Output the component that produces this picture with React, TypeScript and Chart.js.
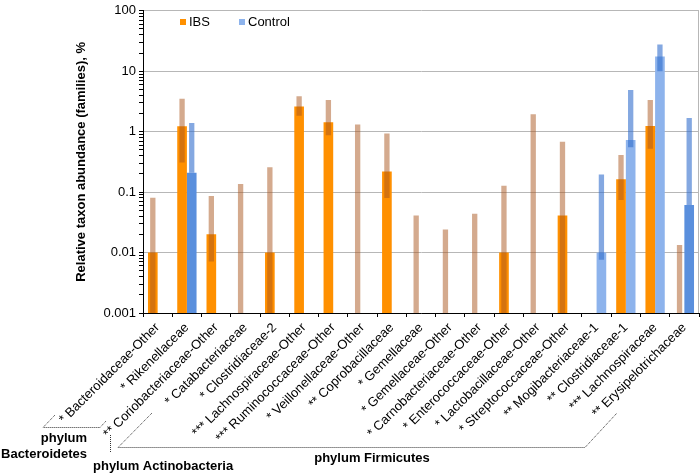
import React, { useEffect, useRef } from 'react';
import { Chart, registerables } from 'chart.js';

Chart.register(...registerables);

// ---------- data ----------
const categories = [
  '* Bacteroidaceae-Other',
  '* Rikenellaceae',
  '** Coriobacteriaceae-Other',
  '* Catabacteriaceae',
  '* Clostridiaceae-2',
  '*** Lachnospiraceae-Other',
  '*** Ruminococcaceae-Other',
  '* Veillonellaceae-Other',
  '** Coprobacillaceae',
  '* Gemellaceae',
  '* Gemellaceae-Other',
  '* Carnobacteriaceae-Other',
  '* Enterococcaceae-Other',
  '* Lactobacillaceae-Other',
  '* Streptococcaceae-Other',
  '** Mogibacteriaceae-1',
  '** Clostridiaceae-1',
  '*** Lachnospiraceae',
  '** Erysipelotrichaceae',
];

// IBS bar values (null = no bar)
const ibsMean = [0.01, 1.23, 0.02, null, 0.01, 2.6, 1.43, null, 0.22, null, null, null, 0.01, null, 0.041, null, 0.163, 1.24, null];
// IBS range bands (low null = down to axis floor)
const ibsLow = [null, 0.31, 0.0071, null, null, 1.83, 0.87, null, 0.08, null, null, null, null, null, null, null, 0.074, 0.52, null];
const ibsHigh = [0.081, 3.5, 0.086, 0.136, 0.257, 3.87, 3.33, 1.32, 0.93, 0.041, 0.024, 0.044, 0.128, 1.95, 0.68, null, 0.41, 3.33, 0.0133];

// Control bar values
const ctrlMean = [null, 0.21, null, null, null, null, null, null, null, null, null, null, null, null, null, 0.01, 0.73, 17.6, 0.061];
const ctrlLow = [null, 0.21, null, null, null, null, null, null, null, null, null, null, null, null, null, 0.0076, 0.55, 10, 0.061];
const ctrlHigh = [null, 1.39, null, null, null, null, null, null, null, null, null, null, null, null, null, 0.195, 4.9, 27.6, 1.68];

const yMin = 0.001;
const yMax = 100;
const yLabelTicks = [0.001, 0.01, 0.1, 1, 10, 100];

const seriesNames = ['IBS', 'Control'];

// ---------- styles ----------
const FONT = '"Liberation Sans", Arial, sans-serif';
const ORANGE = '#FF9000';
const BLUE = '#8DB3EC';
const BLUE_DARK = '#5A8FDD';
const IBS_BAND = 'rgba(170,85,30,0.5)';
const CTRL_BAND = 'rgba(50,110,205,0.6)';
const darkControl = new Set(['* Rikenellaceae', '** Erysipelotrichaceae']);

const isDecade = (v: number) => {
  const l = Math.log10(v);
  return Math.abs(l - Math.round(l)) < 1e-9;
};

const extrasPlugin = {
  id: 'extras',
  afterDraw(chart: any) {
    const ctx = chart.ctx;
    const { chartArea } = chart;
    ctx.save();
    // right border
    ctx.strokeStyle = '#B7B7B7';
    ctx.lineWidth = 1;
    ctx.beginPath();
    ctx.moveTo(chartArea.right - 0.5, chartArea.top);
    ctx.lineTo(chartArea.right - 0.5, chartArea.bottom);
    ctx.stroke();

    // legend
    ctx.font = `13px ${FONT}`;
    ctx.textBaseline = 'middle';
    ctx.textAlign = 'left';
    const legendItems = [
      { name: seriesNames[0], color: ORANGE, x: 180 },
      { name: seriesNames[1], color: BLUE, x: 239 },
    ];
    legendItems.forEach((it) => {
      ctx.fillStyle = it.color;
      ctx.fillRect(it.x, 19, 6, 6);
      ctx.fillStyle = '#000';
      ctx.fillText(it.name, it.x + 9, 22.5);
    });

    // phylum annotations
    ctx.strokeStyle = '#333';
    ctx.lineWidth = 1;
    ctx.setLineDash([1, 1]);
    const line = (pts: number[][]) => {
      ctx.beginPath();
      ctx.moveTo(pts[0][0], pts[0][1]);
      for (let i = 1; i < pts.length; i++) ctx.lineTo(pts[i][0], pts[i][1]);
      ctx.stroke();
    };
    line([[55, 415], [43, 427.5], [100, 427.5], [106, 421]]);
    line([[110.5, 435], [110.5, 452]]);
    line([[152, 413], [118, 447.5], [585, 447.5], [617, 413]]);
    ctx.setLineDash([]);

    ctx.fillStyle = '#000';
    ctx.font = `bold 13px ${FONT}`;
    ctx.textAlign = 'right';
    ctx.fillText('phylum', 87, 438);
    ctx.fillText('Bacteroidetes', 87, 454);
    ctx.textAlign = 'left';
    ctx.fillText('phylum Actinobacteria', 93, 466);
    ctx.textAlign = 'center';
    ctx.fillText('phylum Firmicutes', 372, 458);
    ctx.restore();
  },
};

export default function App() {
  const ref = useRef<HTMLCanvasElement>(null);

  useEffect(() => {
    document.body.style.margin = '0';
    const ibsBand = categories.map((_, i) =>
      ibsHigh[i] == null ? null : [ibsLow[i] ?? yMin, ibsHigh[i]]
    );
    const ctrlBand = categories.map((_, i) =>
      ctrlHigh[i] == null ? null : [ctrlLow[i] ?? yMin, ctrlHigh[i]]
    );
    const chart = new Chart(ref.current as HTMLCanvasElement, {
      type: 'bar',
      data: {
        labels: categories,
        datasets: [
          {
            label: 'IBS range',
            data: ibsBand as any,
            stack: 'ibs',
            backgroundColor: IBS_BAND,
            categoryPercentage: 0.66,
            barPercentage: 0.55,
            order: 1,
          },
          {
            label: 'Control range',
            data: ctrlBand as any,
            stack: 'ctrl',
            backgroundColor: CTRL_BAND,
            categoryPercentage: 0.66,
            barPercentage: 0.55,
            order: 1,
          },
          {
            label: seriesNames[0],
            data: ibsMean as any,
            stack: 'ibs',
            backgroundColor: ORANGE,
            categoryPercentage: 0.66,
            barPercentage: 1,
            order: 2,
          },
          {
            label: seriesNames[1],
            data: ctrlMean as any,
            stack: 'ctrl',
            backgroundColor: categories.map((c) => (darkControl.has(c) ? BLUE_DARK : BLUE)),
            categoryPercentage: 0.66,
            barPercentage: 1,
            order: 2,
          },
        ],
      },
      options: {
        responsive: false,
        animation: false,
        layout: { padding: { left: 70, top: 6, right: 1, bottom: 0 } },
        plugins: {
          legend: { display: false },
          tooltip: { enabled: false },
        },
        scales: {
          x: {
            type: 'category',
            offset: true,
            grid: {
              offset: true,
              drawOnChartArea: false,
              drawTicks: true,
              tickLength: 4,
              tickColor: '#000',
              color: '#000',
            },
            border: { color: '#000', width: 1 },
            ticks: {
              autoSkip: false,
              minRotation: 45,
              maxRotation: 45,
              color: '#000',
              font: { family: FONT, size: 13 },
              padding: 3,
            },
            afterFit: (scale: any) => {
              scale.height = 161;
            },
          },
          y: {
            type: 'logarithmic',
            stacked: false,
            min: yMin,
            max: yMax,
            border: { color: '#000', width: 1 },
            grid: {
              color: (c: any) => (c.tick && isDecade(c.tick.value) ? '#B7B7B7' : 'rgba(0,0,0,0)'),
              tickColor: '#000',
              tickLength: 4,
              lineWidth: 1,
            },
            afterBuildTicks: (scale: any) => {
              const t: { value: number }[] = [];
              for (let d = -3; d < 2; d++) {
                for (let k = 1; k < 10; k++) t.push({ value: parseFloat((k * Math.pow(10, d)).toPrecision(6)) });
              }
              t.push({ value: yMax });
              scale.ticks = t;
            },
            ticks: {
              autoSkip: false,
              color: '#000',
              font: { family: FONT, size: 13 },
              padding: 3,
              callback: (v: any) => {
                const n = Number(v);
                return yLabelTicks.some((t) => Math.abs(t - n) / t < 1e-9) ? String(n) : '';
              },
            },
            title: {
              display: true,
              text: 'Relative taxon abundance (families), %',
              color: '#000',
              font: { family: FONT, size: 13, weight: 'bold' },
              padding: { top: 4, bottom: 4 },
            },
            afterFit: (scale: any) => {
              scale.width = 73;
            },
          },
        },
      },
      plugins: [extrasPlugin],
    });
    return () => chart.destroy();
  }, []);

  return (
    <div style={{ width: 700, height: 474 }}>
      <canvas ref={ref} width={700} height={474} style={{ display: 'block' }} />
    </div>
  );
}
